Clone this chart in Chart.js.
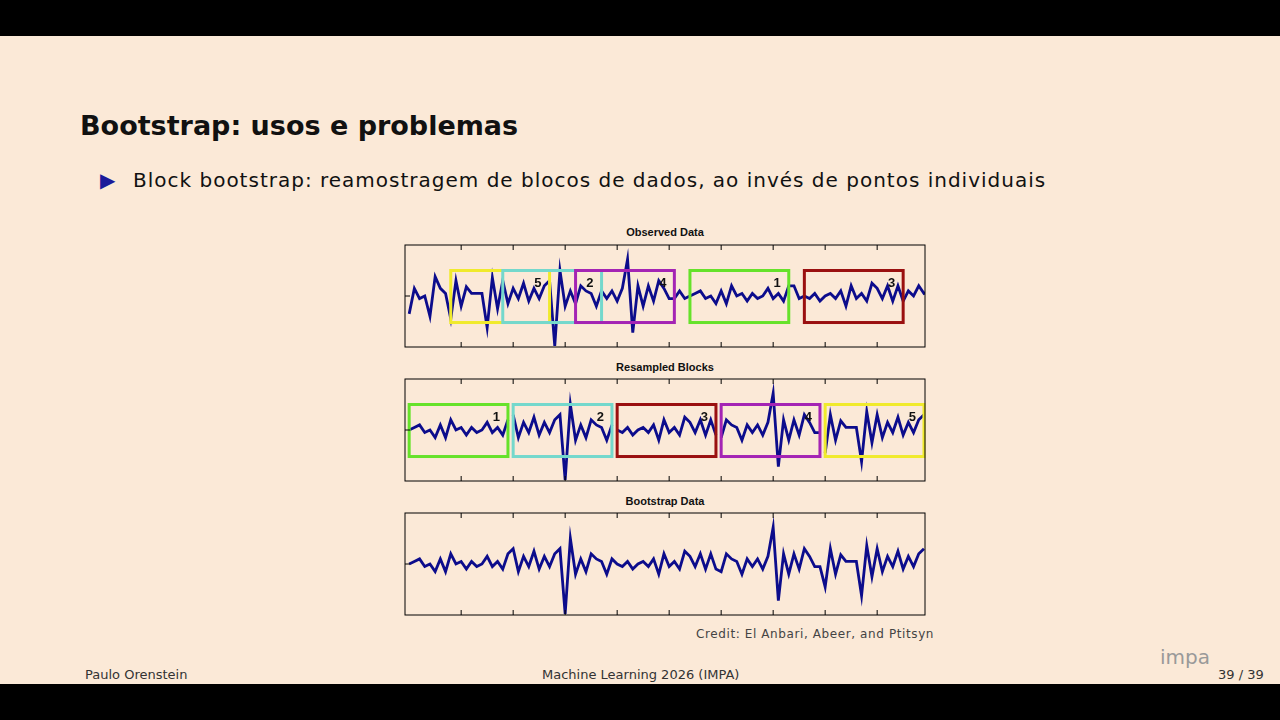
<!DOCTYPE html>
<html><head><meta charset="utf-8">
<script src="https://cdn.jsdelivr.net/npm/chart.js@4/dist/chart.umd.min.js"></script>
<style>
body{margin:0;width:1280px;height:720px;background:#fbe9d7;position:relative;overflow:hidden;font-family:"DejaVu Sans",sans-serif;}
.bar{position:absolute;left:0;width:1280px;background:#000;}
.t{position:absolute;white-space:nowrap;color:#111;}
.ptitle{position:absolute;width:540px;text-align:center;font:bold 11px "Liberation Sans",Arial,sans-serif;color:#111;}
canvas{position:absolute;}
</style></head><body>
<div class="bar" style="top:0;height:36px"></div>
<div class="bar" style="top:684px;height:36px"></div>
<div class="t" style="left:80px;top:110px;font-size:27px;font-weight:bold">Bootstrap: usos e problemas</div>
<div class="t" style="left:100px;top:168px;font-size:20px;color:#1a1a9a">&#9654;</div>
<div class="t" style="left:133px;top:168px;font-size:20px;letter-spacing:1px">Block bootstrap: reamostragem de blocos de dados, ao invés de pontos individuais</div>
<div class="ptitle" style="left:395px;top:226px">Observed Data</div>
<div class="ptitle" style="left:395px;top:361px">Resampled Blocks</div>
<div class="ptitle" style="left:395px;top:495px">Bootstrap Data</div>
<canvas id="c1" style="left:395px;top:222px" width="540" height="130"></canvas>
<canvas id="c2" style="left:395px;top:356px" width="540" height="130"></canvas>
<canvas id="c3" style="left:395px;top:490px" width="540" height="130"></canvas>
<div class="t" style="left:696px;top:627px;font-size:12px;color:#444;letter-spacing:0.6px">Credit: El Anbari, Abeer, and Ptitsyn</div>
<div class="t" style="left:85px;top:667px;font-size:13px;color:#333">Paulo Orenstein</div>
<div class="t" style="left:542px;top:667px;font-size:13px;color:#333">Machine Learning 2026 (IMPA)</div>
<div class="t" style="left:1160px;top:645px;font-size:20px;color:#999">impa</div>
<div class="t" style="left:1218px;top:667px;font-size:13px;color:#333">39 / 39</div>
<script>
var observed = [-0.35,0.15,-0.05,0,-0.4,0.38,0.15,0.05,-0.45,0.3,
 -0.2,0.18,0.05,0.05,0.05,-0.62,0.36,-0.25,0.3,-0.15,
 0.15,-0.05,0.25,-0.1,0.15,-0.05,0.2,0.3,-0.98,0.5,
 -0.2,0.1,-0.15,0.2,0.1,0.05,-0.2,0.1,-0.05,0.1,
 -0.1,0.15,0.72,-0.72,0.2,-0.2,0.2,-0.1,0.3,0.15,
 -0.05,-0.05,0.1,-0.05,0,0.05,0.1,-0.05,0,-0.15,
 0.1,-0.15,0.2,0,0.05,-0.1,0.05,-0.05,0,0.15,
 -0.05,0.05,-0.1,0.2,0.2,-0.05,0,-0.05,0.05,-0.1,
 0,0.05,-0.05,0.1,-0.2,0.2,-0.05,0.05,-0.1,0.25,
 0.15,-0.05,0.2,-0.1,0.2,-0.1,0.1,0,0.2,0.05,0.1];
var blockLabels = ['1','2','3','4','5'];
var blockStarts = [54,18,76,32,8];
var blockColors = ['#66e22a','#74d8cc','#9a1010','#a424b4','#f0ea2c'];
var blockLen = 20;
var xTicks = [10,20,30,40,50,60,70,80,90];

function pts(vals, x0){ return vals.map(function(v,i){ return {x:x0+i, y:v}; }); }

var boot = [];
var resampled = [];
for(var k=0;k<5;k++){
  var seg = observed.slice(blockStarts[k], blockStarts[k]+blockLen);
  resampled.push(pts(seg, k*blockLen));
  boot = boot.concat(seg);
}

function boxPlugin(boxes){
  return {id:'frame', afterDatasetsDraw:function(ch){
    var c=ch.ctx, a=ch.chartArea, x=ch.scales.x, y=ch.scales.y;
    c.save();
    boxes.forEach(function(b){
      var l=x.getPixelForValue(b.from), r=x.getPixelForValue(b.to);
      var t=y.getPixelForValue(0.5), btm=y.getPixelForValue(-0.52);
      c.strokeStyle=b.color; c.lineWidth=3; c.strokeRect(l,t,r-l,btm-t);
      c.fillStyle='#111'; c.font='bold 13px "Liberation Sans",Arial'; c.textAlign='right';
      c.fillText(b.label, r-8, t+16);
    });
    c.strokeStyle='#000'; c.lineWidth=1;
    c.strokeRect(a.left,a.top,a.right-a.left,a.bottom-a.top);
    xTicks.forEach(function(v){
      var px=x.getPixelForValue(v);
      c.beginPath(); c.moveTo(px,a.top); c.lineTo(px,a.top+5);
      c.moveTo(px,a.bottom); c.lineTo(px,a.bottom-5); c.stroke();
    });
    var py=y.getPixelForValue(0);
    c.beginPath(); c.moveTo(a.left,py); c.lineTo(a.left+5,py); c.stroke();
    c.restore();
  }};
}

function makeChart(id, datasets, boxes){
  return new Chart(document.getElementById(id), {
    type:'line',
    data:{datasets:datasets},
    options:{
      responsive:false, animation:false,
      layout:{padding:{left:10,right:10,top:23,bottom:5}},
      plugins:{legend:{display:false},tooltip:{enabled:false}},
      scales:{
        x:{type:'linear',min:-0.8,max:99.2,display:false},
        y:{min:-1,max:1,display:false}
      }
    },
    plugins:[boxPlugin(boxes)]
  });
}
function ds(data){ return {data:data,borderColor:'#0c0c8c',borderWidth:2.8,pointRadius:0,tension:0}; }

var obsBoxes = [];
var resBoxes = [];
for(var k=0;k<5;k++){
  obsBoxes.push({from:blockStarts[k],to:blockStarts[k]+blockLen-1,color:blockColors[k],label:blockLabels[k]});
  resBoxes.push({from:k*blockLen,to:k*blockLen+blockLen-1,color:blockColors[k],label:blockLabels[k]});
}
obsBoxes = [obsBoxes[4],obsBoxes[1],obsBoxes[3],obsBoxes[0],obsBoxes[2]];

makeChart('c1',[ds(pts(observed,0))],obsBoxes);
makeChart('c2',resampled.map(ds),resBoxes);
makeChart('c3',[ds(pts(boot,0))],[]);
</script>
</body></html>
